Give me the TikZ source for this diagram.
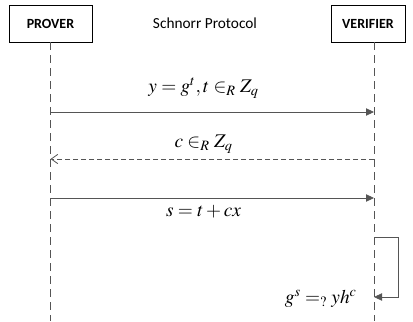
\documentclass[tikz,border=0pt]{standalone}
\usepackage{mathptmx}
\usepackage[no-math]{fontspec}
\setmainfont{Carlito}
\usetikzlibrary{arrows.meta,positioning,calc}
\definecolor{linegray}{RGB}{85,85,85}

\begin{document}
\begin{tikzpicture}[x=0.75pt, y=-0.75pt,
  actor/.style={draw, font=\bfseries\fontsize{10.5}{12}\selectfont,
    minimum height=27.75pt, inner sep=0pt, fill=white},
  life/.style={linegray, dash pattern=on 6pt off 3.75pt},
  msg/.style={-{Triangle[length=6pt,width=5.5pt]}, semithick, linegray},
  reply/.style={-{Straight Barb[length=5pt,width=7pt]}, semithick, linegray,
    dash pattern=on 3.5pt off 2.5pt},
  lbl/.style={font=\fontsize{14.5}{16}\selectfont, inner sep=1pt, text=black, xshift=-6.5pt}
]
\useasboundingbox (0,0) rectangle (413,321);
\node[actor, minimum width=62.25pt] (prover) at (50.5,23.5) {PROVER};
\node[actor, minimum width=55.5pt] (verifier) at (368,23.5) {VERIFIER};
\node[font=\fontsize{11.5}{13}\selectfont] (title) at (205,23.5) {Schnorr Protocol};
% lifelines
\coordinate (pend) at (50.5,321);
\coordinate (vend) at (374,321);
\draw[life] (prover.south) -- (pend);
\draw[life] (verifier.south -| vend) -- (vend);
% message points
\coordinate (p1) at (50.5,112);  \coordinate (v1) at (374,112);
\coordinate (p2) at (50.5,159);  \coordinate (v2) at (374,159);
\coordinate (p3) at (50.5,198);  \coordinate (v3) at (374,198);
\coordinate (v4) at (374,237);   \coordinate (v5) at (374,297);
\coordinate (c1) at (398,237);   \coordinate (c2) at (398,297);
\draw[msg] (p1) -- (v1) node[lbl, midway, above=9pt] (m1) {$y = g^{t}, t \in_{R} Z_{q}$};
\draw[reply] (v2) -- (p2) node[lbl, midway, above=3pt] (m2) {$c \in_{R} Z_{q}$};
\draw[msg] (p3) -- (v3) node[lbl, midway, below=4pt] (m3) {$s = t + cx$};
\draw[msg] (v4) -- (c1) -- (c2) -- (v5);
\node[lbl, xshift=0pt, anchor=east] (check) at (367,299) {$g^{s} =_{?} yh^{c}$};
\end{tikzpicture}
\end{document}
